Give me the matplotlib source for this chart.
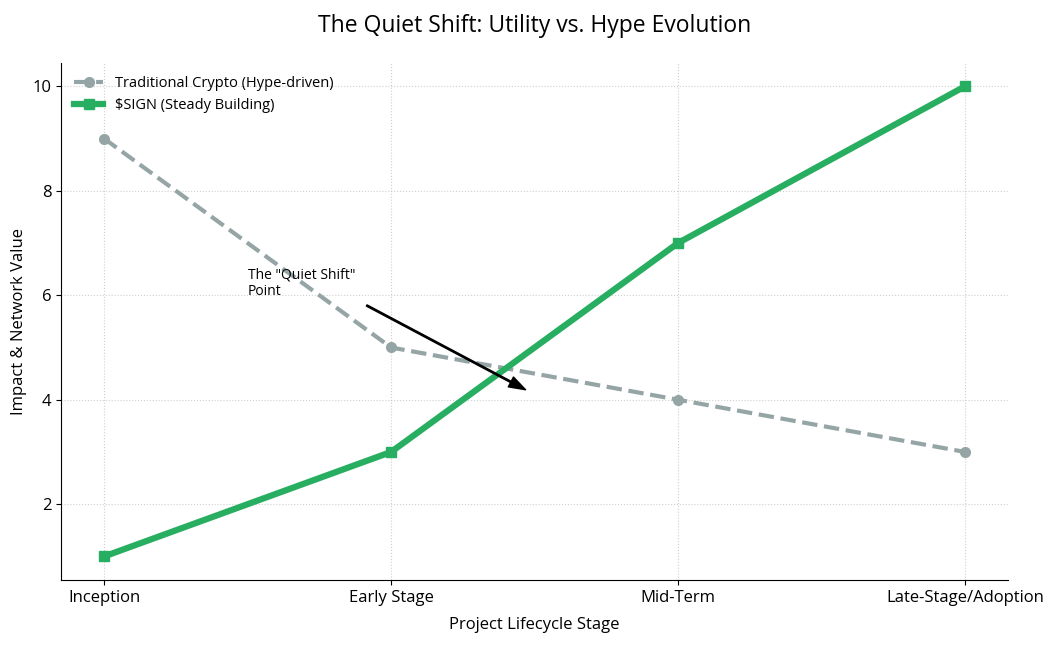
import matplotlib
matplotlib.use("Agg")
import matplotlib.pyplot as plt

plt.rcParams['font.family'] = ['Open Sans', 'DejaVu Sans']

# data
stages = ['Inception', 'Early Stage', 'Mid-Term', 'Late-Stage/Adoption']
hype_values = [9, 5, 4, 3]
sign_values = [1, 3, 7, 10]

fig, ax = plt.subplots(figsize=(10.59, 6.47), dpi=100)

x = range(len(stages))
ax.plot(x, hype_values, linestyle='--', marker='o', color='#95A5A6', linewidth=3,
        markersize=7, label='Traditional Crypto (Hype-driven)')
ax.plot(x, sign_values, linestyle='-', marker='s', color='#27AE60', linewidth=4.5,
        markersize=7, label='$SIGN (Steady Building)')

# annotation
ax.annotate('The "Quiet Shift"\nPoint', xy=(1.5, 4.1), xytext=(0.5, 6.0),
            fontsize=10,
            arrowprops=dict(facecolor='black', shrink=0.05, width=1, headwidth=8))

ax.set_xticks(list(x))
ax.set_xticklabels(stages, fontsize=12)
ax.tick_params(axis='y', labelsize=12)
ax.set_title('The Quiet Shift: Utility vs. Hype Evolution', fontsize=16.5, pad=22)
ax.set_xlabel('Project Lifecycle Stage', fontsize=12, labelpad=8)
ax.set_ylabel('Impact & Network Value', fontsize=12)
ax.grid(True, linestyle=':', alpha=0.6)
ax.spines['top'].set_visible(False)
ax.spines['right'].set_visible(False)
ax.legend(loc='upper left', frameon=False, fontsize=10.5)

fig.subplots_adjust(left=0.0576, right=0.952, top=0.903, bottom=0.1036)
fig.savefig('out.png', dpi=100)
